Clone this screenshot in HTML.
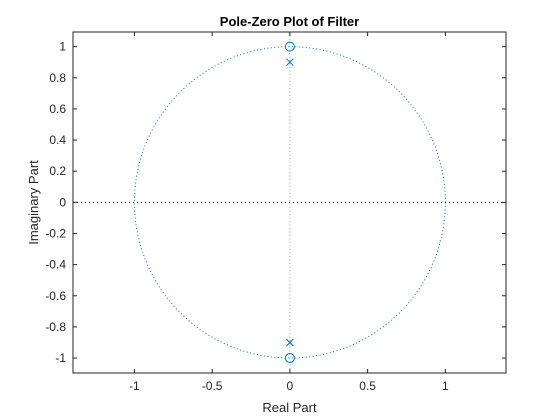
<!DOCTYPE html>
<html><head><meta charset="utf-8"><style>body{margin:0;background:#fff}svg{display:block;font-family:"Liberation Sans",sans-serif}</style></head>
<body>
<svg id="c" width="560" height="420"></svg>
<script>
const xTicks=[-1,-0.5,0,0.5,1];
const yTicks=[-1,-0.8,-0.6,-0.4,-0.2,0,0.2,0.4,0.6,0.8,1];
const zerosRe=[0,0];
const zerosIm=[1,-1];
const polesRe=[0,0];
const polesIm=[0.9,-0.9];
const xMin=-1.395,xMax=1.39,yMin=-1.096,yMax=1.094;
const L=73,R=506,T=32,B=373;
const sx=v=>L+(v-xMin)/(xMax-xMin)*(R-L);
const sy=v=>B-(v-yMin)/(yMax-yMin)*(B-T);
const svg=document.getElementById('c');
const NS='http://www.w3.org/2000/svg';
function mk(t,a,txt){const e=document.createElementNS(NS,t);for(const k in a)e.setAttribute(k,a[k]);if(txt!==undefined)e.textContent=txt;svg.appendChild(e);return e;}
let e;
e=mk('rect',{x:L,y:T,width:R-L,height:B-T,fill:'#fff',stroke:'none'});


const N=200;let d='';
for(let i=0;i<=N;i++){const a=2*Math.PI*i/N;d+=(i?'L':'M')+sx(Math.cos(a)).toFixed(2)+' '+sy(Math.sin(a)).toFixed(2);}
e=mk('path',{d:d,fill:'none',stroke:'#0072BD','stroke-width':1,'stroke-dasharray':'1 2.5'});


e=mk('line',{x1:L,x2:R,y1:sy(0),y2:sy(0),stroke:'#000','stroke-width':1,'stroke-dasharray':'1 3'});


e=mk('line',{x1:sx(0),x2:sx(0),y1:T,y2:B,stroke:'#8aa8bf','stroke-width':1,'stroke-dasharray':'1 2.5'});


e=mk('rect',{x:L,y:T,width:R-L,height:B-T,fill:'none',stroke:'#262626','stroke-width':1});


xTicks.forEach(v=>{const x=sx(v);
mk('line',{x1:x,x2:x,y1:B,y2:B-4,stroke:'#262626'});mk('line',{x1:x,x2:x,y1:T,y2:T+4,stroke:'#262626'});
e=mk('text',{x:x,y:B+17,'text-anchor':'middle','font-size':12,fill:'#262626'},String(v));

});
yTicks.forEach(v=>{const y=sy(v);
mk('line',{x1:L,x2:L+4,y1:y,y2:y,stroke:'#262626'});mk('line',{x1:R,x2:R-4,y1:y,y2:y,stroke:'#262626'});
e=mk('text',{x:L-7,y:y+4,'text-anchor':'end','font-size':12,fill:'#262626'},String(v));

});
zerosRe.forEach((r,i)=>{
e=mk('circle',{cx:sx(r),cy:sy(zerosIm[i]),r:4.5,fill:'none',stroke:'#0072BD','stroke-width':1});

});
polesRe.forEach((r,i)=>{const x=sx(r),y=sy(polesIm[i]);
e=mk('path',{d:`M${x-3.5} ${y-3.5}L${x+3.5} ${y+3.5}M${x-3.5} ${y+3.5}L${x+3.5} ${y-3.5}`,stroke:'#0072BD','stroke-width':1,fill:'none'});

});
e=mk('text',{x:(L+R)/2,y:26,'text-anchor':'middle','font-size':13,'font-weight':'bold',fill:'#000'},'Pole-Zero Plot of Filter');


e=mk('text',{x:(L+R)/2,y:412,'text-anchor':'middle','font-size':13,fill:'#262626'},'Real Part');


e=mk('text',{x:0,y:0,'text-anchor':'middle','font-size':13,fill:'#262626',transform:`translate(38,${(T+B)/2}) rotate(-90)`},'Imaginary Part');


</script>
</body></html>
